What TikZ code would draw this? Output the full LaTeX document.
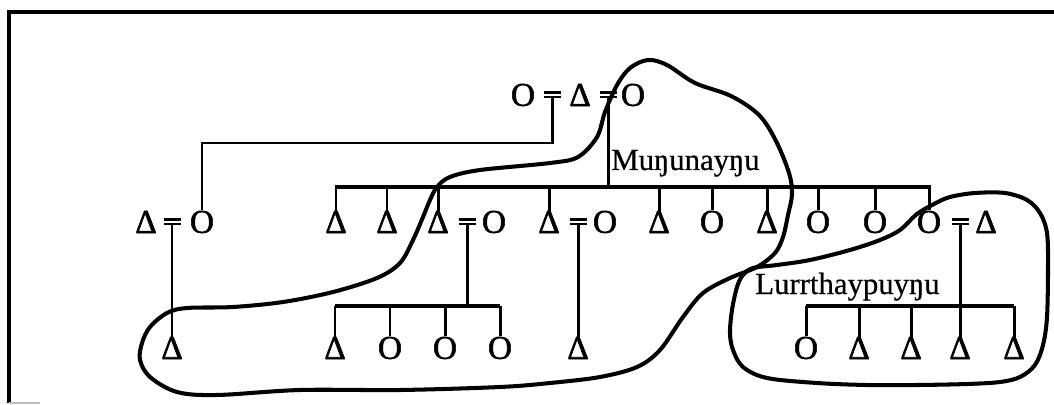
\documentclass[tikz,border=0pt]{standalone}
\usepackage{fontspec}
\setmainfont{Liberation Serif}
\newfontfamily\kinfont[FakeBold=1.6]{Liberation Serif}
\newfontfamily\namefont[FakeBold=0.6]{Liberation Serif}
\usetikzlibrary{calc}
\tikzset{
  sym/.style={inner sep=0pt, font=\fontsize{19}{19}\kinfont},
  kinline/.style={line width=1.7pt},
  sibbar/.style={line width=2.1pt},
  marbar/.style={line width=1.6pt},
  groupline/.style={line width=2.3pt, line join=round},
  groupname/.style={inner sep=0pt, anchor=base west, font=\fontsize{17.5}{18}\namefont}
}

\begin{document}
\begin{tikzpicture}[x=0.02cm, y=-0.02cm]
  \useasboundingbox (0,0) rectangle (1054,405);
  % frame
  \draw[line width=2.2pt] (9,403) -- (9,12) -- (1060,12);
  \draw[gray!50, line width=0.8pt] (9,403) -- (40,403);
  % coordinates
  \coordinate (eq-top1) at (552,97);
  \coordinate (eq-top2) at (608,97);
  \coordinate (elbow) at (202,143);
  \coordinate (bar-left) at (335,187);
  \coordinate (bar-right) at (931,187);
  \coordinate (eq-left) at (172,224);
  \coordinate (eq-c3) at (467,224);
  \coordinate (eq-c4) at (578,224);
  \coordinate (eq-c10) at (960,224);
  \coordinate (bar2-left) at (335,306);
  \coordinate (bar2-right) at (500,306);
  \coordinate (bar3-left) at (806,306);
  \coordinate (bar3-right) at (1014,306);
  % top generation
  \node[sym] (top-wife1) at (523,95) {O};
  \node[sym] (top-man) at (580,95) {Δ};
  \node[sym] (top-wife2) at (633,95) {O};
  \draw[marbar] (eq-top1) ++(-8.5,0) -- ++(17,0);
  \draw[marbar] (eq-top1) ++(-8.5,-4.5) -- ++(17,0);
  \draw[marbar] (eq-top2) ++(-8.5,0) -- ++(17,0);
  \draw[marbar] (eq-top2) ++(-8.5,-4.5) -- ++(17,0);
  % left couple
  \node[sym] (left-man) at (146,222) {Δ};
  \node[sym] (left-wife) at (202,222) {O};
  \draw[marbar] (eq-left) ++(-8.5,0) -- ++(17,0);
  \draw[marbar] (eq-left) ++(-8.5,-4.5) -- ++(17,0);
  \draw[kinline] (eq-top1) |- (elbow) -- (left-wife);
  % children of top man and second wife
  \node[sym] (c1) at (336,222) {Δ};
  \node[sym] (c2) at (387,222) {Δ};
  \node[sym] (c3) at (438,222) {Δ};
  \node[sym] (c3-wife) at (494,222) {O};
  \node[sym] (c4) at (549,222) {Δ};
  \node[sym] (c4-wife) at (605,222) {O};
  \node[sym] (c5) at (659,222) {Δ};
  \node[sym] (c6) at (712,222) {O};
  \node[sym] (c7) at (767,222) {Δ};
  \node[sym] (c8) at (818,222) {O};
  \node[sym] (c9) at (875,222) {O};
  \node[sym] (c10) at (929,222) {O};
  \node[sym] (c10-man) at (986,222) {Δ};
  \draw[marbar] (eq-c3) ++(-8.5,0) -- ++(17,0);
  \draw[marbar] (eq-c3) ++(-8.5,-4.5) -- ++(17,0);
  \draw[marbar] (eq-c4) ++(-8.5,0) -- ++(17,0);
  \draw[marbar] (eq-c4) ++(-8.5,-4.5) -- ++(17,0);
  \draw[marbar] (eq-c10) ++(-8.5,0) -- ++(17,0);
  \draw[marbar] (eq-c10) ++(-8.5,-4.5) -- ++(17,0);
  \draw[kinline] (eq-top2) -- (eq-top2 |- bar-left);
  \draw[sibbar] (bar-left) -- (bar-right);
  \foreach \kid in {c1,c2,c3,c4,c5,c6,c7,c8,c9,c10}
    \draw[kinline] (\kid |- bar-left) -- (\kid);
  % grandchildren
  \node[sym] (g1) at (172,348) {Δ};
  \draw[kinline] (eq-left) -- (g1);
  \node[sym] (g2) at (335,348) {Δ};
  \node[sym] (g3) at (390,348) {O};
  \node[sym] (g4) at (445,348) {O};
  \node[sym] (g5) at (500,348) {O};
  \draw[kinline] (eq-c3) -- (eq-c3 |- bar2-left);
  \draw[sibbar] (bar2-left) -- (bar2-right);
  \foreach \kid in {g2,g3,g4,g5}
    \draw[kinline] (\kid |- bar2-left) -- (\kid);
  \node[sym] (g6) at (578,348) {Δ};
  \draw[kinline] (eq-c4) -- (g6);
  \node[sym] (g7) at (806,348) {O};
  \node[sym] (g8) at (859,348) {Δ};
  \node[sym] (g9) at (911,348) {Δ};
  \node[sym] (g10) at (960,348) {Δ};
  \node[sym] (g11) at (1014,348) {Δ};
  \draw[kinline] (eq-c10) -- (eq-c10 |- bar3-left);
  \draw[sibbar] (bar3-left) -- (bar3-right);
  \foreach \kid in {g7,g8,g9,g10,g11}
    \draw[kinline] (\kid |- bar3-left) -- (\kid);
  % group names
  \node[groupname] (munu) at (611,170) {Muŋunayŋu};
  \node[groupname] (lurr) at (755,294) {Lurrthaypuyŋu};
  % Munungayngu boundary
  \draw[groupline] plot[smooth cycle, tension=0.55] coordinates {
    (430,200) (437,187) (450,177) (480,170) (550,163) (578,157) (597,137)
    (605,112) (617,85) (630,68) (648,60) (667,65) (695,83) (731,96)
    (759,115) (776,141) (789,173) (792,194) (788,215) (783,237) (775,253)
    (757,267) (730,278) (703,293) (683,317) (660,350) (637,367) (600,377)
    (550,383) (500,387) (400,390) (300,390) (217,395) (177,392) (150,377)
    (140,360) (142,343) (150,327) (167,313) (187,308) (233,307) (283,302)
    (333,292) (377,278) (400,263) (413,240) (423,217)};
  % Lurrthaypuyngu boundary
  \draw[groupline] plot[smooth cycle, tension=0.55] coordinates {
    (934,204) (950,197) (975,193) (1005,193) (1027,200) (1040,213)
    (1047,233) (1048,267) (1047,317) (1043,345) (1035,365) (1020,377)
    (1000,382) (967,384) (917,385) (867,385) (817,383) (767,378)
    (743,367) (733,350) (730,333) (732,310) (737,287) (743,275)
    (753,268) (777,265) (810,260) (850,250) (880,240) (900,230) (917,214)};
\end{tikzpicture}
\end{document}
